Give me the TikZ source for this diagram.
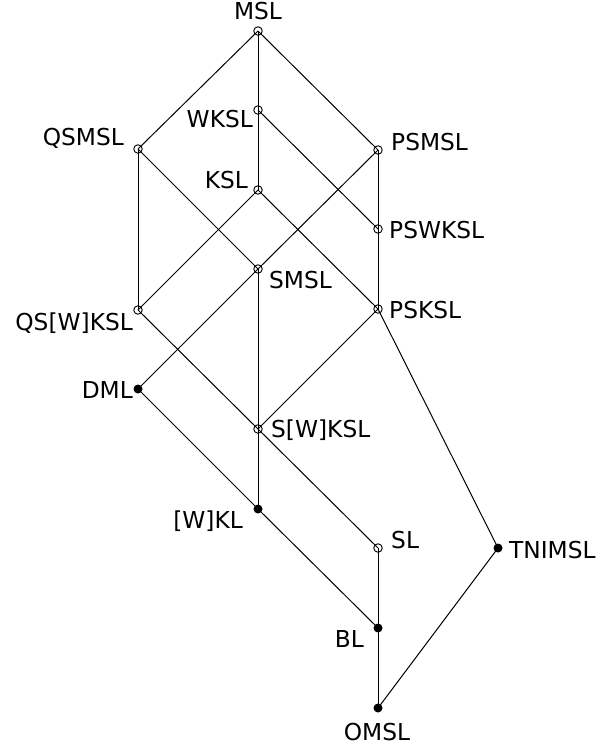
\documentclass[tikz,border=0pt]{standalone}
\usepackage{fontspec}
\setmainfont{DejaVu Sans}
\begin{document}
\begin{tikzpicture}[x=1pt,y=-1pt,
  every node/.style={font=\fontsize{23.3}{27}\selectfont},
  opendot/.style={circle,draw,line width=0.9pt,inner sep=0pt,minimum size=8.5pt},
  fulldot/.style={circle,fill,inner sep=0pt,minimum size=9pt},
  lab/.style={inner sep=0pt},
  edge/.style={line width=1pt}]
\useasboundingbox (0,0) rectangle (605,749);
% nodes
\node[opendot] (MSL) at (258,31) {};
\node[opendot] (WKSL) at (258,110) {};
\node[opendot] (QSMSL) at (138,149) {};
\node[opendot] (PSMSL) at (378,150) {};
\node[opendot] (KSL) at (258,190) {};
\node[opendot] (PSWKSL) at (378,229) {};
\node[opendot] (SMSL) at (258,269) {};
\node[opendot] (QSWKSL) at (138,310) {};
\node[opendot] (PSKSL) at (378,309) {};
\node[fulldot] (DML) at (138,389) {};
\node[opendot] (SWKSL) at (258,429) {};
\node[fulldot] (WKL) at (258,509) {};
\node[opendot] (SL) at (378,548) {};
\node[fulldot] (TNIMSL) at (498,548) {};
\node[fulldot] (BL) at (378,628) {};
\node[fulldot] (OMSL) at (378,708) {};
% edges
\foreach \a/\b in {MSL/QSMSL,MSL/PSMSL,MSL/WKSL,WKSL/KSL,WKSL/PSWKSL,
  QSMSL/QSWKSL,QSMSL/SMSL,PSMSL/PSWKSL,PSMSL/SMSL,KSL/QSWKSL,KSL/PSKSL,
  PSWKSL/PSKSL,SMSL/SWKSL,SMSL/DML,QSWKSL/SWKSL,PSKSL/SWKSL,PSKSL/TNIMSL,
  DML/WKL,SWKSL/WKL,SWKSL/SL,WKL/BL,SL/BL,BL/OMSL,TNIMSL/OMSL}
  \draw[edge] (\a.center) -- (\b.center);
% labels
\node[lab,anchor=base] (lMSL) at (258,20) {MSL};
\node[lab,anchor=base east] (lWKSL) at (253,128) {WKSL};
\node[lab,anchor=base east] (lQSMSL) at (124,146) {QSMSL};
\node[lab,anchor=base west] (lPSMSL) at (391,150) {PSMSL};
\node[lab,anchor=base east] (lKSL) at (248,188) {KSL};
\node[lab,anchor=base west] (lPSWKSL) at (389,238) {PSWKSL};
\node[lab,anchor=base west] (lSMSL) at (269,288) {SMSL};
\node[lab,anchor=base east] (lQSWKSL) at (133,330) {QS[W]KSL};
\node[lab,anchor=base west] (lPSKSL) at (389,318) {PSKSL};
\node[lab,anchor=base east] (lDML) at (133,398) {DML};
\node[lab,anchor=base west] (lSWKSL) at (271,437) {S[W]KSL};
\node[lab,anchor=base east] (lWKL) at (243,528) {[W]KL};
\node[lab,anchor=base west] (lSL) at (391,548) {SL};
\node[lab,anchor=base west] (lTNIMSL) at (509,558) {TNIMSL};
\node[lab,anchor=base east] (lBL) at (364,647) {BL};
\node[lab,anchor=base] (lOMSL) at (377,740) {OMSL};
\end{tikzpicture}
\end{document}
